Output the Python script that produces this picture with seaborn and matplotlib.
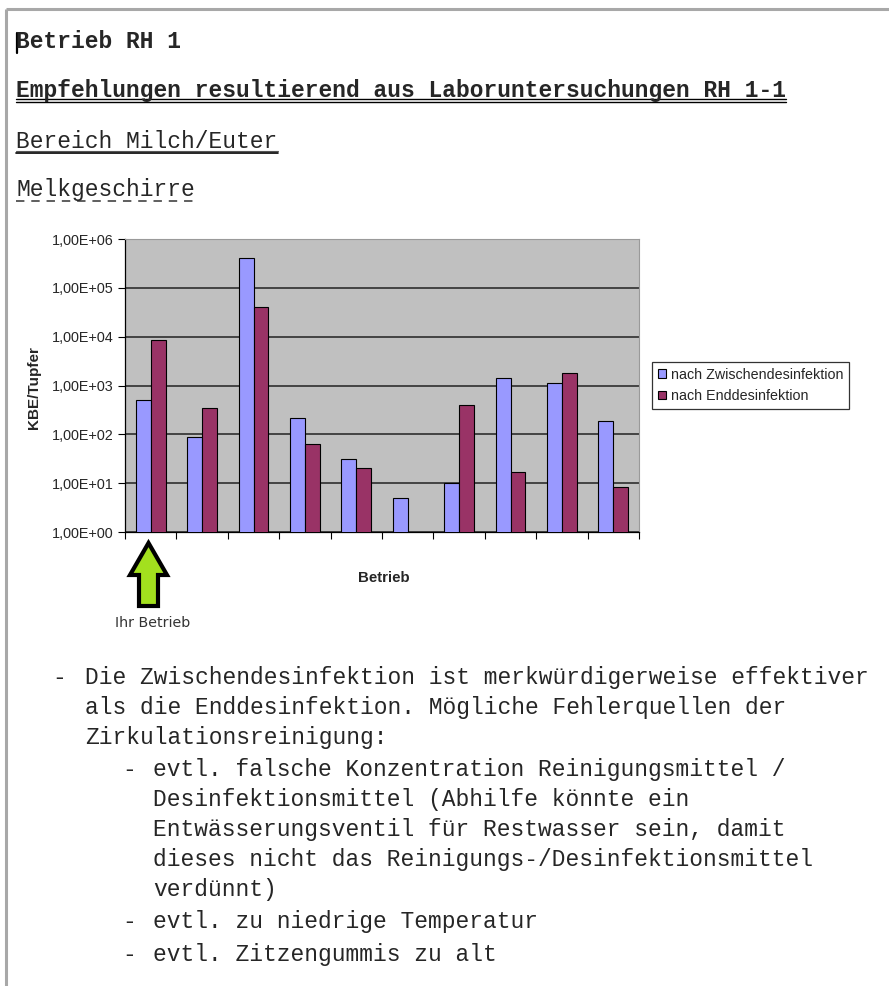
import numpy as np
import pandas as pd
import matplotlib
matplotlib.use("Agg")
import matplotlib.pyplot as plt
from matplotlib.patches import Patch, Polygon
from matplotlib.ticker import FixedLocator, NullFormatter
import seaborn as sns

# ---- data -------------------------------------------------------------
betriebe = ["1", "2", "3", "4", "5", "6", "7", "8", "9", "10"]
nach_zwischen = [500, 90, 400000, 220, 31, 5, 10, 1450, 1150, 190]
nach_end = [8500, 340, 40000, 63, 20, np.nan, 400, 17, 1780, 8.5]
serien = ["nach Zwischendesinfektion", "nach Enddesinfektion"]
farben = ["#9999FF", "#993366"]
y_ticks = [1e0, 1e1, 1e2, 1e3, 1e4, 1e5, 1e6]
y_ticklabels = ["1,00E+00", "1,00E+01", "1,00E+02", "1,00E+03",
                "1,00E+04", "1,00E+05", "1,00E+06"]

df = pd.DataFrame({
    "Betrieb": betriebe * 2,
    "KBE": nach_zwischen + nach_end,
    "Serie": [serien[0]] * len(betriebe) + [serien[1]] * len(betriebe),
})

sns.set_style("white")
plt.rcParams["font.family"] = ["Liberation Sans", "DejaVu Sans"]

W, H = 889, 986
fig = plt.figure(figsize=(W / 100, H / 100), dpi=100)
fig.patch.set_facecolor("white")

# page layer in pixel coordinates
page = fig.add_axes([0, 0, 1, 1], zorder=0)
page.set_xlim(0, W)
page.set_ylim(H, 0)
page.axis("off")

# page border
page.plot([6, W], [9, 9], color="#a8a8a8", lw=2.2, solid_capstyle="butt")
page.plot([6, 6], [9, H], color="#a8a8a8", lw=2.2, solid_capstyle="butt")
# text cursor
page.plot([16.5, 16.5], [33, 53], color="black", lw=1.6)

mono = "Liberation Mono"
fs = 16.5
page.text(16, 48.5, "Betrieb RH 1", family=mono, fontsize=fs, weight="bold",
          va="baseline", ha="left")
page.text(16, 96.5, "Empfehlungen resultierend aus Laboruntersuchungen RH 1-1",
          family=mono, fontsize=fs, weight="bold", va="baseline", ha="left")
page.plot([16, 786], [98.5, 98.5], color="black", lw=1.0)
page.plot([16, 786], [101.5, 101.5], color="black", lw=1.0)
page.text(16, 147.5, "Bereich Milch/Euter", family=mono, fontsize=fs,
          va="baseline", ha="left")
page.plot([16, 278], [150.5, 150.5], color="#555555", lw=0.8)
page.plot([16, 278], [153, 153], color="black", lw=1.2)
page.text(16, 196, "Melkgeschirre", family=mono, fontsize=fs,
          va="baseline", ha="left")
page.plot([16, 195], [201, 201], color="#333333", lw=1.1,
          linestyle=(0, (5.5, 4.5)))

body = [
    (52, 85, 684, "Die Zwischendesinfektion ist merkwürdigerweise effektiver"),
    (None, 85, 714, "als die Enddesinfektion. Mögliche Fehlerquellen der"),
    (None, 85, 744, "Zirkulationsreinigung:"),
    (122, 153, 776, "evtl. falsche Konzentration Reinigungsmittel /"),
    (None, 153, 806, "Desinfektionsmittel (Abhilfe könnte ein"),
    (None, 153, 836, "Entwässerungsventil für Restwasser sein, damit"),
    (None, 153, 866, "dieses nicht das Reinigungs-/Desinfektionsmittel"),
    (None, 153, 896, "verdünnt)"),
    (122, 153, 928, "evtl. zu niedrige Temperatur"),
    (122, 153, 961, "evtl. Zitzengummis zu alt"),
]
for dash_x, tx, ty, line in body:
    if dash_x is not None:
        page.text(dash_x, ty, "-", family=mono, fontsize=fs, va="baseline",
                  ha="left")
    page.text(tx, ty, line, family=mono, fontsize=fs, va="baseline", ha="left")

# ---- chart ------------------------------------------------------------
x0, x1, y0, y1 = 125, 639, 239, 532
ax = fig.add_axes([x0 / W, 1 - y1 / H, (x1 - x0) / W, (y1 - y0) / H], zorder=2)
ax.set_yscale("log")
sns.barplot(data=df, x="Betrieb", y="KBE", hue="Serie", hue_order=serien,
            palette=farben, errorbar=None, width=0.576, gap=0,
            edgecolor="black", linewidth=0.8, saturation=1, ax=ax,
            legend=False, zorder=3)
ax.set_ylim(1, 1e6)
ax.set_xlim(-0.5, len(betriebe) - 0.5)
ax.set_facecolor("#C0C0C0")
ax.yaxis.set_major_locator(FixedLocator(y_ticks))
ax.set_yticklabels(y_ticklabels)
ax.yaxis.set_minor_locator(FixedLocator([]))
ax.set_xticks(np.arange(-0.5, len(betriebe), 1.0))
ax.xaxis.set_major_formatter(NullFormatter())
ax.tick_params(axis="both", direction="out", length=5, width=0.8,
               color="black", labelsize=10.4, pad=3, left=True, bottom=True)
ax.grid(axis="y", color="#222222", lw=1.1, zorder=1)
ax.set_axisbelow(True)
for side in ("top", "right"):
    ax.spines[side].set_color("#9a9a9a")
    ax.spines[side].set_linewidth(0.8)
for side in ("left", "bottom"):
    ax.spines[side].set_color("black")
    ax.spines[side].set_linewidth(0.9)

ax.set_xlabel("Betrieb", fontsize=10.8, weight="bold")
ax.set_ylabel("KBE/Tupfer", fontsize=11.0, weight="bold")
ax.xaxis.set_label_coords((384 - x0) / (x1 - x0), (y1 - 571) / (y1 - y0))
ax.yaxis.set_label_coords((41 - x0) / (x1 - x0), (y1 - 388) / (y1 - y0))

handles = [Patch(facecolor=c, edgecolor="black", linewidth=0.8) for c in farben]
leg = fig.legend(handles, serien, loc="upper left",
                 bbox_to_anchor=(652 / W, 1 - 362 / H), fontsize=10.3,
                 frameon=True, fancybox=False, handlelength=0.55,
                 handleheight=0.55, handletextpad=0.35, borderpad=0.4,
                 labelspacing=0.5, borderaxespad=0)
leg.get_frame().set_edgecolor("black")
leg.get_frame().set_linewidth(0.9)

# arrow pointing to the own farm
cx = 148.5
arrow = Polygon([(cx, 543), (cx + 18.5, 575), (cx + 9.5, 575), (cx + 9.5, 606),
                 (cx - 9.5, 606), (cx - 9.5, 575), (cx - 18.5, 575)],
                closed=True, facecolor="#a3e01e", edgecolor="black", lw=3,
                joinstyle="miter")
page.add_patch(arrow)
page.text(153, 623, "Ihr Betrieb", family=["DejaVu Sans"], fontsize=10.3,
          color="#333333", ha="center", va="center")

fig.savefig("out.png", dpi=100)
